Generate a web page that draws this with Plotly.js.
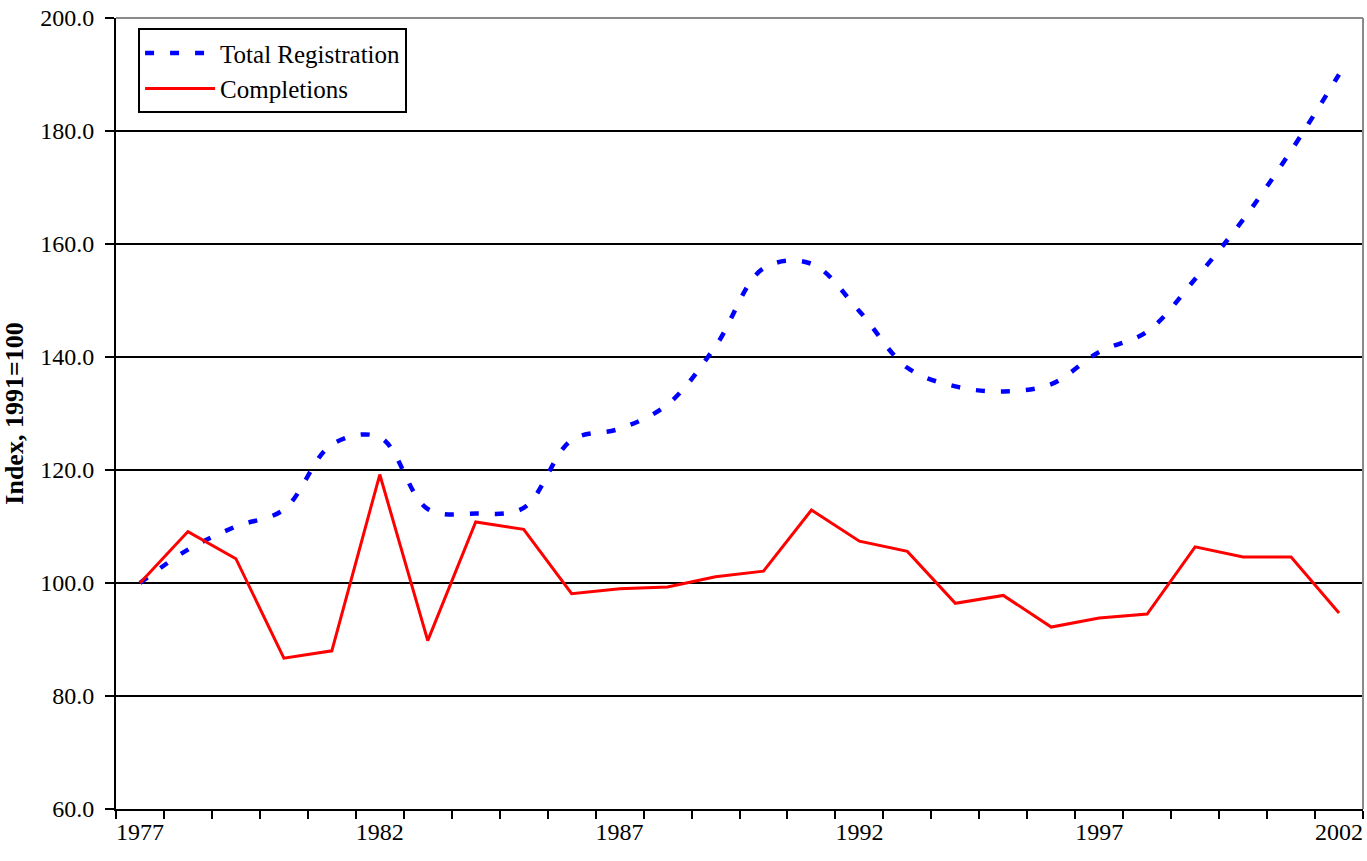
<!DOCTYPE html>
<html>
<head>
<meta charset="utf-8">
<script src="https://cdn.plot.ly/plotly-3.0.1.min.js"></script>
<style>html,body{margin:0;padding:0;background:#fff;}#chart{width:1367px;height:861px;}</style>
</head>
<body>
<div id="chart"></div>
<script>
const years = [1977,1978,1979,1980,1981,1982,1983,1984,1985,1986,1987,1988,1989,1990,1991,1992,1993,1994,1995,1996,1997,1998,1999,2000,2001,2002];
const totalRegistration = [100.0,105.9,110.0,113.0,124.5,125.8,113.1,112.3,113.3,125.3,127.3,131.6,141.9,155.7,156.5,148.1,138.1,134.8,133.9,135.2,140.9,144.5,153.8,164.3,176.5,190.0];
const completions = [100.0,109.1,104.3,86.7,88.0,119.2,89.8,110.8,109.5,98.1,99.0,99.3,101.1,102.1,112.9,107.4,105.6,96.4,97.8,92.2,93.8,94.5,106.4,104.6,104.6,94.7];
const labelYears = [1977,1982,1987,1992,1997,2002];
const seriesNames = ['Total Registration','Completions'];
const yTitle = 'Index, 1991=100';

const boundaries = years.map(y => y - 0.5).concat([years[years.length-1] + 0.5]);
const FONT = "'Liberation Serif', 'Times New Roman', serif";

const traces = [
  {x: years, y: totalRegistration, name: seriesNames[0], type: 'scatter', mode: 'lines',
   line: {color: '#0000ff', width: 4.5, dash: '9px,16px', shape: 'spline', smoothing: 1}},
  {x: years, y: completions, name: seriesNames[1], type: 'scatter', mode: 'lines',
   line: {color: '#ff0000', width: 3}}
];

const layout = {
  width: 1367, height: 861,
  margin: {l: 116, r: 4, t: 18, b: 52},
  paper_bgcolor: '#fff', plot_bgcolor: '#fff',
  font: {family: FONT, size: 24, color: '#000'},
  showlegend: true,
  legend: {x: 0.0177, y: 0.987, xanchor: 'left', yanchor: 'top',
           bgcolor: '#fff', bordercolor: '#000', borderwidth: 2,
           itemwidth: 70,
           font: {family: FONT, size: 25, color: '#000'}, tracegroupgap: 0},
  xaxis: {range: [boundaries[0], boundaries[boundaries.length-1]],
          tickmode: 'array', tickvals: labelYears, ticktext: labelYears.map(String),
          ticks: '', showgrid: false, zeroline: false,
          showline: true, linecolor: '#000', linewidth: 2,
          ticklabelstandoff: 0,
          tickfont: {family: FONT, size: 24, color: '#000'},
          minor: {tickmode: 'array', tickvals: boundaries, ticks: 'outside', ticklen: 8, tickwidth: 2, tickcolor: '#000', showgrid: false}},
  yaxis: {range: [60, 200], dtick: 20, tick0: 60, tickformat: '.1f',
          ticks: 'outside', ticklen: 9, tickwidth: 2, tickcolor: '#000',
          showgrid: true, gridcolor: '#000', gridwidth: 1.5, zeroline: false,
          showline: true, linecolor: '#000', linewidth: 2,
          ticklabelstandoff: 6,
          tickfont: {family: FONT, size: 24, color: '#000'},
          title: {text: '<b>' + yTitle + '</b>', font: {family: FONT, size: 26, color: '#000'}, standoff: 12}},
  shapes: [
    {type: 'line', xref: 'paper', yref: 'paper', x0: 1, x1: 1, y0: 0, y1: 1, line: {color: '#8a8a8a', width: 2}},
    {type: 'line', xref: 'paper', yref: 'paper', x0: 0, x1: 1, y0: 1, y1: 1, line: {color: '#8a8a8a', width: 2}}
  ]
};

Plotly.newPlot('chart', traces, layout, {displayModeBar: false, staticPlot: true});
</script>
</body>
</html>
